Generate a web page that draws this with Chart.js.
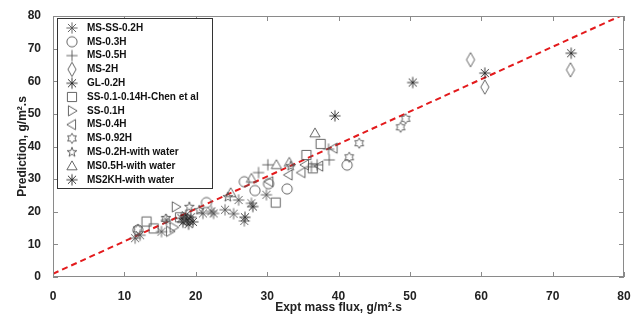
<!DOCTYPE html>
<html lang="en">
<head>
  <meta charset="UTF-8" />
  <title>Prediction vs expt mass flux</title>
  <script src="https://cdn.jsdelivr.net/npm/chart.js"></script>
  <style>
    html, body {
      margin: 0;
      padding: 0;
      background: #ffffff;
    }
    #wrap {
      width: 638px;
      height: 321px;
    }
  </style>
</head>
<body>
  <div id="wrap"><canvas id="chart"></canvas></div>

<script>
  // series names and marker kinds, in legend order
  const seriesNames = [
    'MS-SS-0.2H', 'MS-0.3H', 'MS-0.5H', 'MS-2H', 'GL-0.2H', 'SS-0.1-0.14H-Chen et al',
    'SS-0.1H', 'MS-0.4H', 'MS-0.92H', 'MS-0.2H-with water', 'MS0.5H-with water', 'MS2KH-with water'
  ];
  const markerKinds = [
    'asterisk', 'circle', 'plus', 'diamond', 'asterisk', 'square',
    'triRight', 'triLeft', 'hexagram', 'pentagram', 'triUp', 'asterisk'
  ];

  // [expt, prediction]
  const msSs02H = [[11.5, 11.9], [12.2, 12.8], [15.2, 13.9], [15.9, 17.4], [21.0, 19.5], [22.2, 20.1],
    [24.1, 20.6], [25.3, 19.4], [26.8, 17.2], [26.0, 23.6], [27.8, 22.6], [29.9, 25.2], [22.5, 19.5]];
  const ms03H = [[11.9, 14.4], [21.5, 22.8], [26.8, 29.2], [28.3, 26.5], [30.2, 28.6], [32.8, 27.0], [41.2, 34.3]];
  const ms05H = [[28.8, 32.0], [30.1, 34.4], [37.0, 34.4], [38.6, 39.2], [38.7, 35.9], [36.2, 33.8]];
  const ms2H = [[58.5, 66.6], [60.5, 58.2], [72.5, 63.5]];
  const gl02H = [[39.5, 49.4], [50.4, 59.6], [60.5, 62.5], [72.6, 68.6]];
  const ssChen = [[13.1, 17.0], [14.1, 14.9], [17.8, 18.3], [31.2, 22.8], [35.5, 37.4], [36.4, 33.3], [37.5, 40.8]];
  const ss01H = [[17.2, 21.5], [16.4, 14.0], [16.9, 15.2]];
  const ms04H = [[39.3, 39.5], [35.3, 34.4], [34.8, 32.0], [33.0, 31.3], [30.3, 29.2], [37.3, 34.0]];
  const ms092H = [[11.9, 14.6], [15.8, 17.8], [42.9, 41.0], [41.5, 36.7], [49.4, 48.5], [48.7, 45.9]];
  const ms02HWater = [[19.1, 21.5], [20.5, 20.5], [24.5, 24.5], [33.3, 34.0]];
  const ms05HWater = [[24.9, 25.8], [27.8, 30.2], [31.3, 34.4], [33.1, 35.1], [36.7, 44.1]];
  const ms2KHWater = [[18.2, 16.8], [18.8, 17.6], [19.3, 18.3], [18.6, 18.9], [19.6, 16.9], [19.0, 16.2],
    [18.0, 18.0], [28.0, 21.6], [26.9, 18.3]];

  const seriesData = [msSs02H, ms03H, ms05H, ms2H, gl02H, ssChen, ss01H, ms04H, ms092H, ms02HWater, ms05HWater, ms2KHWater];

  const xTicks = [0, 10, 20, 30, 40, 50, 60, 70, 80];
  const yTicks = [0, 10, 20, 30, 40, 50, 60, 70, 80];
  const fitLine = [[0, 1], [80, 80.5]];

  const FONT = "'Liberation Sans', Arial, sans-serif";

  function drawMarker(ctx, kind, cx, cy, r) {
    ctx.beginPath();
    if (kind === 'circle') {
      ctx.arc(cx, cy, r, 0, Math.PI * 2);
    } else if (kind === 'plus') {
      ctx.moveTo(cx - r, cy); ctx.lineTo(cx + r, cy);
      ctx.moveTo(cx, cy - r); ctx.lineTo(cx, cy + r);
    } else if (kind === 'asterisk') {
      const d = r * 0.72;
      ctx.moveTo(cx - r, cy); ctx.lineTo(cx + r, cy);
      ctx.moveTo(cx, cy - r); ctx.lineTo(cx, cy + r);
      ctx.moveTo(cx - d, cy - d); ctx.lineTo(cx + d, cy + d);
      ctx.moveTo(cx - d, cy + d); ctx.lineTo(cx + d, cy - d);
    } else if (kind === 'diamond') {
      ctx.moveTo(cx, cy - r * 1.4); ctx.lineTo(cx + r * 0.8, cy);
      ctx.lineTo(cx, cy + r * 1.4); ctx.lineTo(cx - r * 0.8, cy);
      ctx.closePath();
    } else if (kind === 'square') {
      ctx.rect(cx - r * 0.9, cy - r * 0.9, r * 1.8, r * 1.8);
    } else if (kind === 'triRight') {
      ctx.moveTo(cx + r, cy); ctx.lineTo(cx - r * 0.7, cy - r); ctx.lineTo(cx - r * 0.7, cy + r);
      ctx.closePath();
    } else if (kind === 'triLeft') {
      ctx.moveTo(cx - r, cy); ctx.lineTo(cx + r * 0.7, cy - r); ctx.lineTo(cx + r * 0.7, cy + r);
      ctx.closePath();
    } else if (kind === 'triUp') {
      ctx.moveTo(cx, cy - r); ctx.lineTo(cx + r, cy + r * 0.75); ctx.lineTo(cx - r, cy + r * 0.75);
      ctx.closePath();
    } else if (kind === 'hexagram' || kind === 'pentagram') {
      const n = kind === 'hexagram' ? 6 : 5;
      const inner = kind === 'hexagram' ? r / Math.sqrt(3) : r * 0.4;
      for (let i = 0; i < n * 2; i++) {
        const a = -Math.PI / 2 + i * Math.PI / n;
        const rr = i % 2 === 0 ? r : inner;
        const px = cx + rr * Math.cos(a), py = cy + rr * Math.sin(a);
        if (i === 0) ctx.moveTo(px, py); else ctx.lineTo(px, py);
      }
      ctx.closePath();
    }
    ctx.stroke();
  }

  function markerCanvas(kind, color) {
    const c = document.createElement('canvas');
    c.width = 20; c.height = 20;
    const g = c.getContext('2d');
    g.strokeStyle = color;
    g.lineWidth = 0.9;
    drawMarker(g, kind, 10, 10, kind === 'plus' || kind === 'asterisk' ? 5.6 : 5.1);
    return c;
  }

  const markerColors = seriesNames.map((n, i) => i === 11 || i === 4 ? '#222222' : '#555555');
  const markerImages = markerKinds.map((k, i) => markerCanvas(k, markerColors[i]));

  const datasets = seriesNames.map((name, i) => ({
    type: 'scatter',
    label: name,
    data: seriesData[i].map(p => ({ x: p[0], y: p[1] })),
    pointStyle: markerImages[i],
    pointRadius: 5,
    pointHoverRadius: 5
  }));

  datasets.push({
    type: 'line',
    label: 'fit',
    data: fitLine.map(p => ({ x: p[0], y: p[1] })),
    borderColor: '#e31a1c',
    borderWidth: 2,
    borderDash: [6, 4],
    pointRadius: 0,
    fill: false
  });

  // MATLAB-like box, inner ticks and legend inside the axes
  const boxPlugin = {
    id: 'boxPlugin',
    afterDatasetsDraw(chart) {
      const { ctx, chartArea: a, scales } = chart;
      ctx.save();
      ctx.strokeStyle = '#8a8a8a';
      ctx.lineWidth = 1;
      ctx.strokeRect(a.left + 0.5, a.top + 0.5, a.right - a.left - 1, a.bottom - a.top - 1);
      ctx.beginPath();
      xTicks.forEach(v => {
        const x = Math.round(scales.x.getPixelForValue(v)) + 0.5;
        ctx.moveTo(x, a.bottom); ctx.lineTo(x, a.bottom - 5);
        ctx.moveTo(x, a.top); ctx.lineTo(x, a.top + 5);
      });
      yTicks.forEach(v => {
        const y = Math.round(scales.y.getPixelForValue(v)) + 0.5;
        ctx.moveTo(a.left, y); ctx.lineTo(a.left + 5, y);
        ctx.moveTo(a.right, y); ctx.lineTo(a.right - 5, y);
      });
      ctx.stroke();

      // legend
      const lx = a.left + 4, ly = a.top + 2, lw = 155, lh = 170;
      ctx.fillStyle = '#ffffff';
      ctx.fillRect(lx, ly, lw, lh);
      ctx.strokeStyle = '#333333';
      ctx.strokeRect(lx + 0.5, ly + 0.5, lw, lh);
      ctx.font = 'bold 10px ' + FONT;
      ctx.fillStyle = '#111111';
      ctx.textBaseline = 'middle';
      seriesNames.forEach((name, i) => {
        const y = ly + 10 + i * 13.8;
        ctx.drawImage(markerImages[i], lx + 15 - 10, y - 10);
        ctx.fillText(name, lx + 30, y);
      });
      ctx.restore();
    }
  };

  new Chart(document.getElementById('chart'), {
    data: { datasets },
    options: {
      responsive: true,
      maintainAspectRatio: false,
      animation: false,
      layout: { padding: { top: 16, right: 14, left: 0, bottom: 0 } },
      plugins: {
        legend: { display: false },
        tooltip: { enabled: false }
      },
      scales: {
        x: {
          type: 'linear',
          min: 0,
          max: 80,
          afterFit: s => { s.height = 44; },
          afterBuildTicks: s => { s.ticks = xTicks.map(v => ({ value: v })); },
          grid: { display: false },
          border: { display: false },
          ticks: { padding: 4, color: '#222', font: { family: FONT, size: 12, weight: 'bold' } },
          title: {
            display: true,
            text: 'Expt mass flux, g/m².s',
            color: '#222',
            padding: { top: 0, bottom: 6 },
            font: { family: FONT, size: 12, weight: 'bold' }
          }
        },
        y: {
          type: 'linear',
          min: 0,
          max: 80,
          afterFit: s => { s.width = 53; },
          afterBuildTicks: s => { s.ticks = yTicks.map(v => ({ value: v })); },
          grid: { display: false },
          border: { display: false },
          ticks: { padding: 4, color: '#222', font: { family: FONT, size: 12, weight: 'bold' } },
          title: {
            display: true,
            text: 'Prediction, g/m².s',
            color: '#222',
            padding: { top: 15, bottom: 0 },
            font: { family: FONT, size: 12, weight: 'bold' }
          }
        }
      }
    },
    plugins: [boxPlugin]
  });
</script>
</body>
</html>
